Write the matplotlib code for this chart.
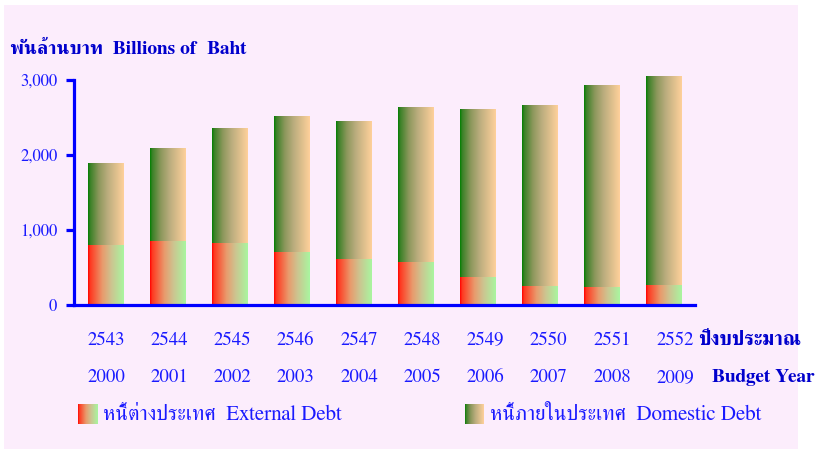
import matplotlib
matplotlib.use("Agg")
import matplotlib.pyplot as plt
import numpy as np
from matplotlib.colors import LinearSegmentedColormap
from matplotlib.patches import Rectangle

# public debt by budget year (billions of baht)
thai_years = ["2543", "2544", "2545", "2546", "2547", "2548", "2549", "2550", "2551", "2552"]
ad_years = ["2000", "2001", "2002", "2003", "2004", "2005", "2006", "2007", "2008", "2009"]
external = [800, 853, 827, 707, 613, 573, 373, 253, 240, 267]
total = [1893, 2093, 2347, 2507, 2453, 2627, 2613, 2653, 2933, 3053]
domestic = [t - e for t, e in zip(total, external)]

FONT = ["FreeSerif", "DejaVu Serif"]
BLUE = "#0000ff"
TXT = "#1a1aff"

ext_cmap = LinearSegmentedColormap.from_list(
    "ext", [(0, "#ff0000"), (0.06, "#ff3820"), (0.4, "#e99a6c"), (0.65, "#cdc490"), (1, "#a8f6a0")])
dom_cmap = LinearSegmentedColormap.from_list(
    "dom", [(0, "#008000"), (0.06, "#3a8126"), (0.3, "#8c975c"), (0.55, "#bbad7e"), (1, "#ffd19b")])
grad = np.linspace(0, 1, 256).reshape(1, -1)

fig = plt.figure(figsize=(8.22, 4.49), dpi=100)
fig.patch.set_facecolor("white")
fig.patches.append(Rectangle((4 / 822, 0), 794 / 822, 444 / 449, transform=fig.transFigure,
                             facecolor="#fcedfc", edgecolor="none", zorder=-10))

ymax = 3070
ax = fig.add_axes([74 / 822, 144 / 449, 621 / 822, ymax * 0.075 / 449])
ax.set_facecolor("none")

x = np.arange(len(ad_years))
b1 = ax.bar(x, external, width=0.58, color="none", edgecolor="none")
b2 = ax.bar(x, domestic, width=0.58, bottom=external, color="none", edgecolor="none")
for bars, cmap in [(b1, ext_cmap), (b2, dom_cmap)]:
    for b in bars:
        x0, y0 = b.get_xy()
        ax.imshow(grad, cmap=cmap, aspect="auto", zorder=2,
                  extent=(x0, x0 + b.get_width(), y0, y0 + b.get_height()))

ax.set_xlim(-0.516, 9.5)
ax.set_ylim(0, ymax)
ax.set_yticks([0, 1000, 2000, 3000])
ax.set_yticklabels(["0", "1,000", "2,000", "3,000"], family=FONT, fontsize=12, color=TXT)
ax.set_xticks([])
for s in ["top", "right"]:
    ax.spines[s].set_visible(False)
for s in ["left", "bottom"]:
    ax.spines[s].set_color(BLUE)
    ax.spines[s].set_linewidth(2.3)
    ax.spines[s].set_zorder(3)
ax.spines["left"].set_bounds(0, 3000)
ax.tick_params(axis="y", length=6, width=2.3, color=BLUE, pad=6)

tr = ax.get_xaxis_transform()
for i in range(len(x)):
    ax.text(x[i] + 0.02 * i, -35 / (ymax * 0.075), thai_years[i], transform=tr, ha="center",
            va="center", family=FONT, fontsize=13.5, color=TXT, clip_on=False)
    ax.text(x[i] + 0.02 * i, -72 / (ymax * 0.075), ad_years[i], transform=tr, ha="center",
            va="center", family=FONT, fontsize=13.5, color=TXT, clip_on=False)
fig.text(750 / 822, 1 - 340 / 449, "ปีงบประมาณ", ha="center", va="center",
         family=FONT, fontsize=14.5, fontweight="bold", color="#0000cc")
fig.text(763 / 822, 1 - 377 / 449, "Budget Year", ha="center", va="center",
         family=FONT, fontsize=14, fontweight="bold", color="#0000cc")

fig.text(10 / 822, 1 - 49 / 449, "พันล้านบาท  Billions of  Baht", ha="left", va="center",
         family=FONT, fontsize=14, fontweight="bold", color="#0000cc")

# legend swatches
for xs, cmap, label in [(78, ext_cmap, "หนี้ต่างประเทศ  External Debt"),
                        (465, dom_cmap, "หนี้ภายในประเทศ  Domestic Debt")]:
    sw = fig.add_axes([xs / 822, 1 - 424 / 449, 19 / 822, 20 / 449])
    sw.imshow(grad, cmap=cmap, aspect="auto")
    sw.axis("off")
    fig.text((xs + 25) / 822, 1 - 415 / 449, label, ha="left", va="center",
             family=FONT, fontsize=15.2, color=TXT)

fig.savefig("out.png", dpi=100)
